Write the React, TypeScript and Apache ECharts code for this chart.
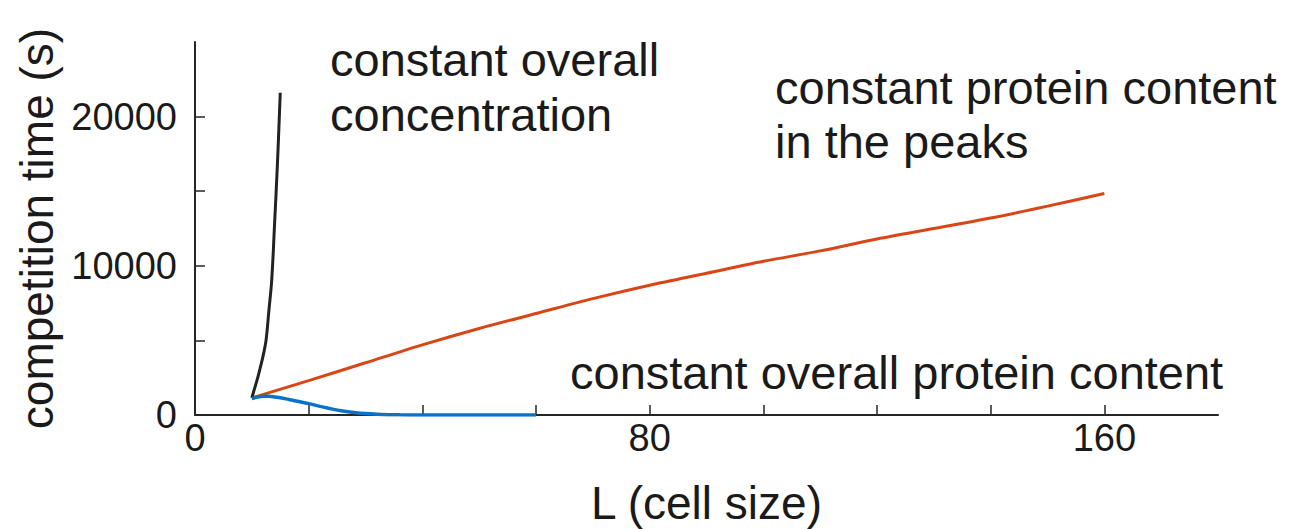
import React, { useEffect, useRef } from "react";
import * as echarts from "echarts";

// Cell size L for each simulated curve and the resulting competition time (s)
const concentrationL = [10, 10.5, 11, 11.5, 12, 12.5, 13, 13.5, 14, 14.5, 15];
const concentrationTime = [1150, 1800, 2450, 3200, 4000, 5000, 7000, 9050, 12800, 16800, 21600];

const peaksL = [10, 20, 30, 40, 50, 60, 70, 80, 90, 100, 110, 120, 130, 140, 150, 160];
const peaksTime = [1150, 2300, 3500, 4700, 5800, 6800, 7800, 8700, 9500, 10300, 11000, 11800, 12500, 13200, 14000, 14850];

const overallL = [10, 11, 12, 13, 14, 15, 16, 17, 18, 20, 22, 24, 26, 28, 30, 32, 34, 36, 40, 50, 60];
const overallTime = [1100, 1200, 1250, 1250, 1210, 1150, 1080, 1000, 920, 760, 580, 410, 270, 170, 95, 50, 25, 10, 0, 0, 0];

// Tick positions and labelled ticks
const xTicks = [0, 20, 40, 60, 80, 100, 120, 140, 160];
const xLabels = [0, 80, 160];
const yTicks = [0, 5000, 10000, 15000, 20000];
const yLabels = [0, 10000, 20000];

const FONT = '"Liberation Sans", Arial, Helvetica, sans-serif';
const INK = "#1a1a1a";
const AXIS = "#262626";

const pairs = (xs: number[], ys: number[]) => xs.map((x, i) => [x, ys[i]]);

export default function App() {
  const ref = useRef<HTMLDivElement>(null);

  useEffect(() => {
    if (!ref.current) return;
    const chart = echarts.init(ref.current, undefined, { renderer: "svg" });

    const label = (text: string, x: number, y: number) => ({
      type: "text",
      x,
      y,
      style: {
        text,
        fill: INK,
        fontSize: 47,
        fontFamily: FONT,
        align: "left",
        verticalAlign: "middle",
      },
    });

    chart.setOption({
      animation: false,
      backgroundColor: "#ffffff",
      grid: {
        left: 195,
        right: 80,
        top: 42,
        bottom: 114,
        containLabel: false,
        outerBoundsMode: "none",
      },
      xAxis: {
        type: "value",
        min: 0,
        max: 180,
        interval: 20,
        name: "L (cell size)",
        nameLocation: "middle",
        nameGap: 64,
        nameTextStyle: { fontSize: 46, lineHeight: 48, fontFamily: FONT, color: INK },
        axisLine: { show: true, onZero: false, lineStyle: { color: AXIS, width: 2 } },
        axisTick: {
          show: true,
          inside: true,
          length: 10,
          customValues: xTicks,
          lineStyle: { color: AXIS, width: 1.5 },
        },
        axisLabel: {
          customValues: xLabels,
          formatter: (v: number) => String(v),
          margin: 4,
          fontSize: 38,
          fontFamily: FONT,
          color: INK,
        },
        splitLine: { show: false },
      },
      yAxis: {
        type: "value",
        min: 0,
        max: 25000,
        interval: 5000,
        name: "competition time (s)",
        nameLocation: "middle",
        nameGap: 135,
        nameTextStyle: { fontSize: 46, fontFamily: FONT, color: INK },
        axisLine: { show: true, onZero: false, lineStyle: { color: AXIS, width: 2 } },
        axisTick: {
          show: true,
          inside: true,
          length: 10,
          customValues: yTicks,
          lineStyle: { color: AXIS, width: 1.5 },
        },
        axisLabel: {
          customValues: yLabels,
          formatter: (v: number) => String(v),
          margin: 18,
          fontSize: 38,
          fontFamily: FONT,
          color: INK,
        },
        splitLine: { show: false },
      },
      series: [
        {
          name: "constant overall concentration",
          type: "line",
          data: pairs(concentrationL, concentrationTime),
          showSymbol: false,
          smooth: 0.4,
          lineStyle: { color: "#222222", width: 3 },
          z: 3,
        },
        {
          name: "constant protein content in the peaks",
          type: "line",
          data: pairs(peaksL, peaksTime),
          showSymbol: false,
          smooth: 0.3,
          lineStyle: { color: "#D94515", width: 3 },
          z: 2,
        },
        {
          name: "constant overall protein content",
          type: "line",
          data: pairs(overallL, overallTime),
          showSymbol: false,
          smooth: 0.3,
          lineStyle: { color: "#0A72C8", width: 3.5 },
          z: 4,
        },
      ],
      graphic: [
        label("constant overall", 330, 59),
        label("concentration", 330, 114),
        label("constant protein content", 775, 87),
        label("in the peaks", 775, 141),
        label("constant overall protein content", 570, 372),
      ],
    });

    return () => chart.dispose();
  }, []);

  return (
    <div
      ref={ref}
      style={{ position: "fixed", left: 0, top: 0, width: 1298, height: 529, background: "#fff" }}
    />
  );
}
